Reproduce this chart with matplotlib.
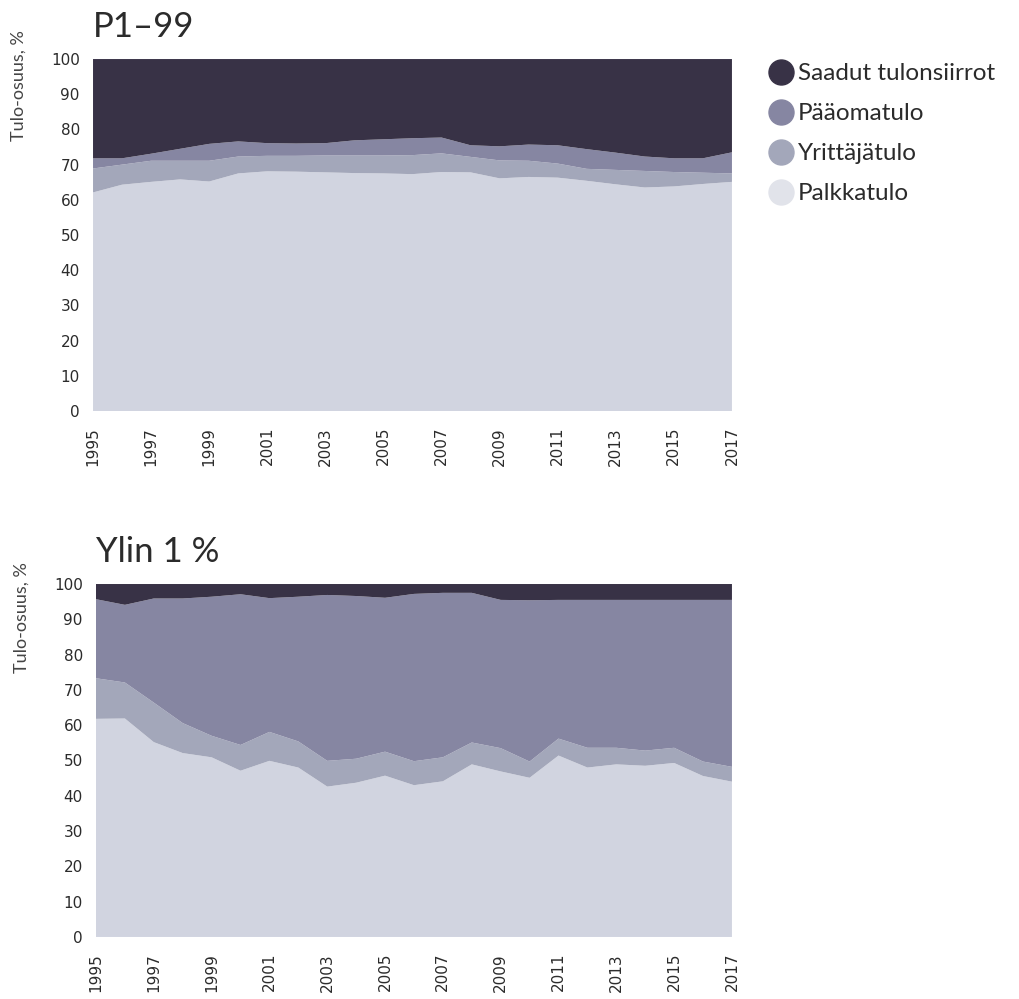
import matplotlib.pyplot as plt
from matplotlib.lines import Line2D

# Tulolähteiden osuudet vuosittain, %
years = list(range(1995, 2018))

# P1-99
p_palkka = [62.1, 64.3, 65.1, 65.8, 65.2, 67.5, 68.1, 68.0, 67.8, 67.6, 67.5, 67.3,
            67.9, 67.8, 66.1, 66.5, 66.3, 65.4, 64.4, 63.5, 63.8, 64.5, 65.1]
p_yrittaja = [6.8, 5.7, 6.0, 5.3, 5.9, 4.8, 4.4, 4.5, 4.8, 5.0, 5.1, 5.4,
              5.3, 4.4, 5.1, 4.6, 4.0, 3.4, 4.1, 4.7, 4.1, 3.2, 2.4]
p_paaoma = [2.9, 1.8, 2.0, 3.4, 4.8, 4.3, 3.6, 3.5, 3.5, 4.3, 4.6, 4.8,
            4.5, 3.3, 4.0, 4.6, 5.2, 5.6, 4.9, 4.1, 3.9, 4.1, 6.0]
p_siirrot = [28.2, 28.2, 26.9, 25.5, 24.1, 23.4, 23.9, 24.0, 23.9, 23.1, 22.8, 22.5,
             22.3, 24.5, 24.8, 24.3, 24.5, 25.6, 26.6, 27.7, 28.2, 28.2, 26.5]

# Ylin 1 %
t_palkka = [61.8, 61.9, 55.2, 52.1, 50.9, 47.1, 49.9, 48.0, 42.6, 43.7, 45.7, 43.0,
            44.1, 48.9, 46.9, 45.1, 51.4, 48.0, 48.9, 48.5, 49.3, 45.6, 44.0]
t_yrittaja = [11.5, 10.2, 11.2, 8.5, 6.1, 7.3, 8.2, 7.4, 7.3, 6.8, 6.8, 6.8,
              6.8, 6.2, 6.6, 4.6, 4.8, 5.6, 4.7, 4.3, 4.3, 4.1, 4.2]
t_paaoma = [22.4, 22.0, 29.5, 35.3, 39.4, 42.7, 37.9, 41.0, 47.0, 46.1, 43.6, 47.4,
            46.6, 42.4, 42.0, 45.7, 39.3, 41.9, 41.9, 42.7, 41.9, 45.8, 47.3]
t_siirrot = [4.3, 5.9, 4.1, 4.1, 3.6, 2.9, 4.0, 3.6, 3.1, 3.4, 3.9, 2.8,
             2.5, 2.5, 4.5, 4.6, 4.5, 4.5, 4.5, 4.5, 4.5, 4.5, 4.5]

labels = ["Palkkatulo", "Yrittäjätulo", "Pääomatulo", "Saadut tulonsiirrot"]
colors = ["#d1d4e0", "#a3a7ba", "#8686a2", "#383246"]
legend_colors = ["#e1e3ea", "#a3a7ba", "#8686a2", "#383246"]

plt.rcParams['font.family'] = ['Lato', 'DejaVu Sans']
text_col = "#2b2b2b"

fig = plt.figure(figsize=(10.2, 9.99), dpi=100)
ax1 = fig.add_axes([0.0912, 0.5886, 0.6264, 0.3523])
ax2 = fig.add_axes([0.0941, 0.0621, 0.6235, 0.3533])


def draw(ax, series, title, ylabel_y):
    ax.stackplot(years, *series, colors=colors, linewidth=0)
    ax.set_xlim(1995, 2017)
    ax.set_ylim(0, 100)
    ax.set_yticks(range(0, 101, 10))
    ax.set_xticks(range(1995, 2018, 2))
    ax.set_xticklabels([str(y) for y in range(1995, 2018, 2)], rotation=90)
    ax.tick_params(length=0, colors=text_col)
    ax.tick_params(axis='y', pad=9.5)
    ax.tick_params(axis='x', pad=11.5)
    for lab in ax.get_xticklabels() + ax.get_yticklabels():
        lab.set_family('DejaVu Sans')
        lab.set_fontsize(11)
    for s in ax.spines.values():
        s.set_visible(False)
    ax.text(0, 1.045, title, transform=ax.transAxes, fontsize=25,
            color=text_col, ha='left', va='bottom')
    ax.text(-0.117, ylabel_y, "Tulo-osuus, %", transform=ax.transAxes, rotation=90,
            fontsize=13, color="#444444", ha='center', va='top')


draw(ax1, [p_palkka, p_yrittaja, p_paaoma, p_siirrot], "P1–99", 1.082)
draw(ax2, [t_palkka, t_yrittaja, t_paaoma, t_siirrot], "Ylin 1 %", 1.062)

handles = [Line2D([], [], marker='o', linestyle='', markersize=18,
                  markerfacecolor=c, markeredgecolor=c)
           for c in legend_colors[::-1]]
fig.legend(handles, labels[::-1], loc='upper left', bbox_to_anchor=(0.730, 0.9586),
           frameon=False, fontsize=17.5, handletextpad=0.1, labelspacing=0.78,
           handlelength=1.2, labelcolor=text_col)

fig.savefig("out.png", dpi=100)
